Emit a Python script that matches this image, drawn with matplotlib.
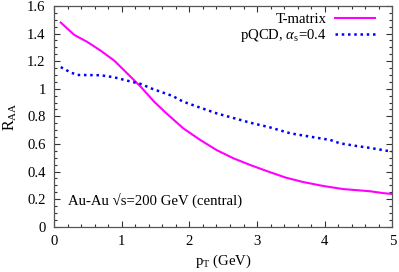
import numpy as np
import matplotlib
matplotlib.use("Agg")
import matplotlib.pyplot as plt
from matplotlib.ticker import MultipleLocator

plt.rcParams['font.family'] = ['Liberation Serif', 'DejaVu Serif']
plt.rcParams['mathtext.fontset'] = 'custom'
plt.rcParams['mathtext.rm'] = 'Liberation Serif'
plt.rcParams['mathtext.it'] = 'Liberation Serif:italic'

# T-matrix curve
pt_tm = [0.10, 0.30, 0.49, 0.69, 0.89, 1.08, 1.28, 1.48, 1.66, 1.91, 2.16,
         2.40, 2.65, 2.90, 3.18, 3.43, 3.68, 3.98, 4.27, 4.67, 4.87, 5.0]
raa_tm = [1.48, 1.39, 1.34, 1.276, 1.204, 1.112, 1.015, 0.906, 0.822, 0.713, 0.629,
          0.556, 0.496, 0.447, 0.397, 0.355, 0.324, 0.295, 0.273, 0.257, 0.243, 0.237]

# pQCD curve, alpha_s = 0.4
pt_qcd = [0.10, 0.25, 0.35, 0.69, 0.89, 1.08, 1.28, 1.45, 1.75, 1.91, 2.40,
          2.90, 3.19, 3.49, 3.78, 4.08, 4.22, 4.47, 4.67, 4.96, 5.0]
raa_qcd = [1.157, 1.117, 1.10, 1.098, 1.083, 1.059, 1.035, 1.0, 0.948, 0.906, 0.822,
           0.754, 0.72, 0.677, 0.653, 0.629, 0.605, 0.585, 0.571, 0.547, 0.545]

xticks = [0, 1, 2, 3, 4, 5]
xticklabels = ['0', '1', '2', '3', '4', '5']
yticks = [0, 0.2, 0.4, 0.6, 0.8, 1.0, 1.2, 1.4, 1.6]
yticklabels = ['0', '0.2', '0.4', '0.6', '0.8', '1', '1.2', '1.4', '1.6']

fs = 10.6

fig = plt.figure(figsize=(3.99, 2.72), dpi=100)
ax = fig.add_axes([0.1353, 0.1665, 0.8484, 0.8115])

ax.plot(pt_tm, raa_tm, color='#ff00ff', lw=1.5, label='T-matrix')
ax.plot(pt_qcd, raa_qcd, color='#0000ff', lw=1.8, dashes=(1, 1.5),
        label=r'pQCD, $\alpha_{\rm s}$=0.4')

ax.set_xlim(0, 5)
ax.set_ylim(0, 1.6)
ax.set_xticks(xticks)
ax.set_xticklabels(xticklabels)
ax.set_yticks(yticks)
ax.set_yticklabels(yticklabels)
ax.xaxis.set_minor_locator(MultipleLocator(0.2))
ax.yaxis.set_minor_locator(MultipleLocator(0.05))
ax.tick_params(which='both', direction='in', top=True, right=True,
               labelsize=fs, width=0.8, color='#333333')
ax.tick_params(which='major', length=4, pad=6)
ax.tick_params(which='minor', length=2)
for s in ax.spines.values():
    s.set_color('#555555')
    s.set_linewidth(0.9)

ax.set_xlabel(r'p$_{\rm T}$ (GeV)', fontsize=fs, labelpad=3)
ax.set_ylabel(r'R$_{\rm AA}$', fontsize=11.5, labelpad=6)

ax.text(0.21, 0.19, 'Au-Au √s=200 GeV (central)', fontsize=fs, va='center')

ax.legend(loc='upper right', frameon=False, markerfirst=False, fontsize=fs,
          handlelength=2.7, handletextpad=0.6, labelspacing=0.1,
          borderaxespad=0.2, bbox_to_anchor=(0.975, 1.01))

fig.savefig('out.png', dpi=100)
